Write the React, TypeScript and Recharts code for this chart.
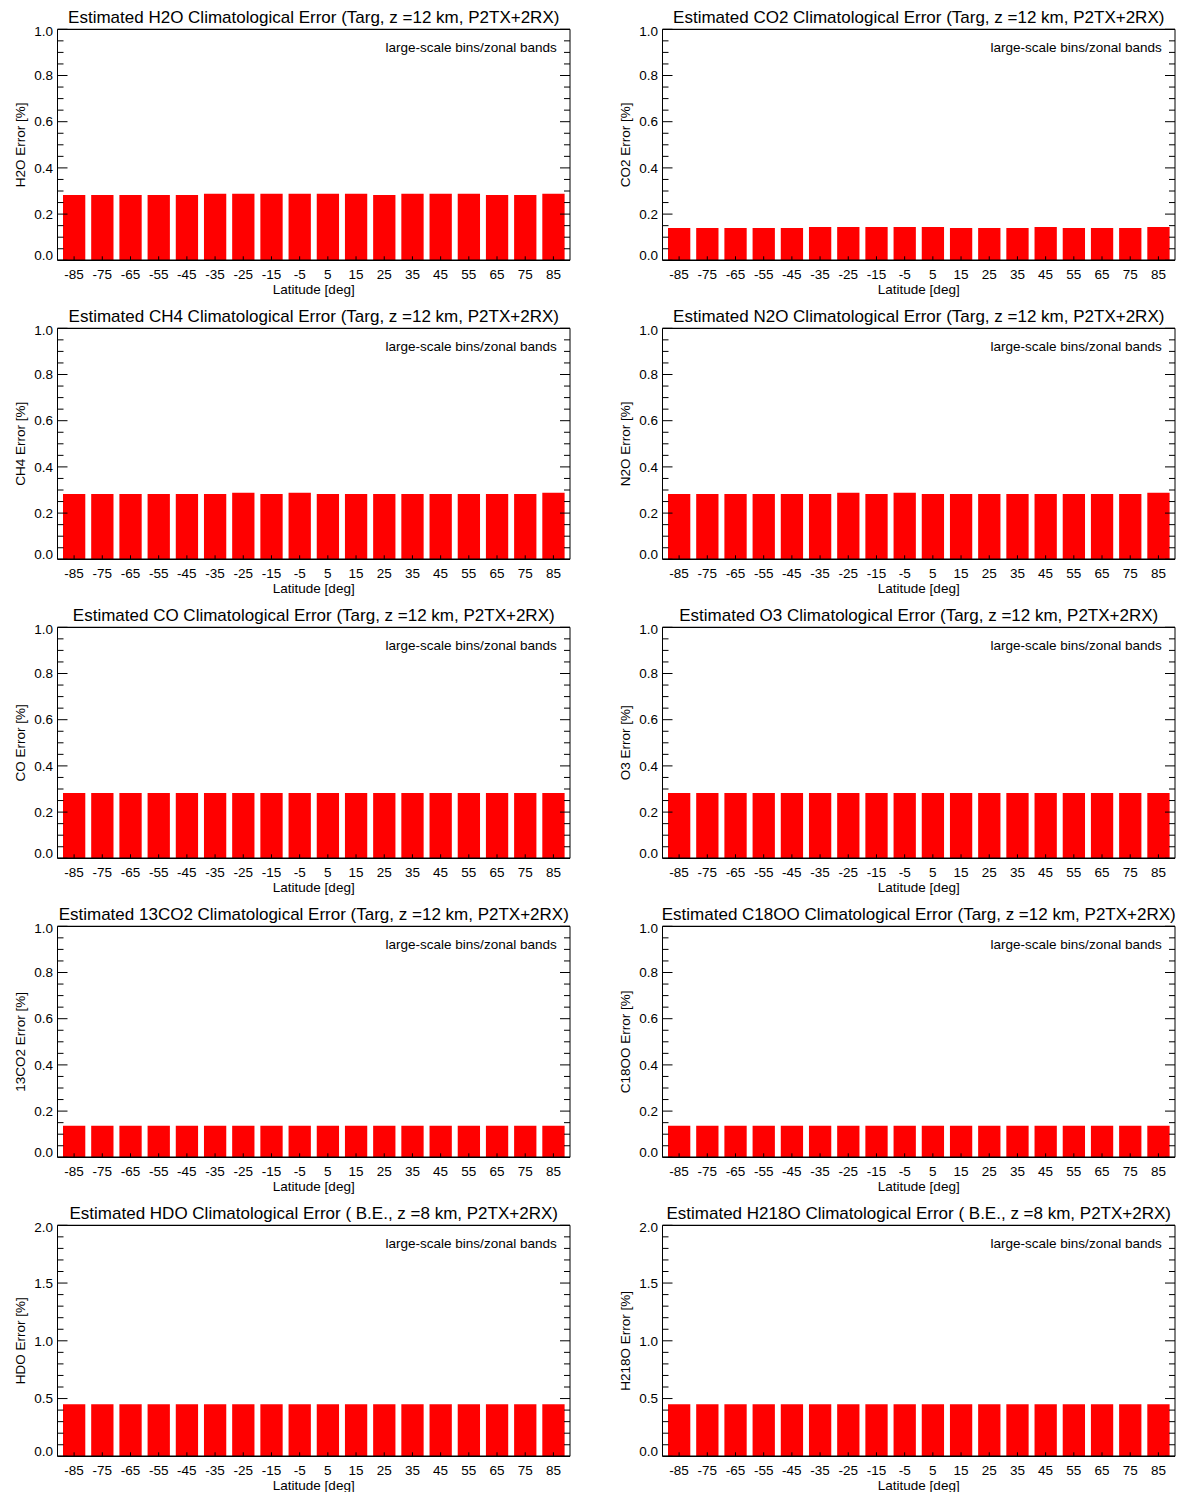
import { BarChart, Bar, XAxis, YAxis, ReferenceLine } from "recharts";

// zonal band centres [deg]
const LATITUDES = [
  "-85", "-75", "-65", "-55", "-45", "-35", "-25", "-15", "-5",
  "5", "15", "25", "35", "45", "55", "65", "75", "85",
];

// estimated climatological error per band [%]
const H2O_ERR = [0.283, 0.283, 0.283, 0.283, 0.283, 0.288, 0.288, 0.288, 0.288, 0.288, 0.288, 0.283, 0.288, 0.288, 0.288, 0.283, 0.283, 0.288];
const CO2_ERR = [0.140, 0.140, 0.140, 0.140, 0.140, 0.144, 0.144, 0.144, 0.144, 0.144, 0.140, 0.140, 0.140, 0.144, 0.140, 0.140, 0.140, 0.144];
const CH4_ERR = [0.283, 0.283, 0.283, 0.283, 0.283, 0.283, 0.288, 0.283, 0.288, 0.283, 0.283, 0.283, 0.283, 0.283, 0.283, 0.283, 0.283, 0.288];
const N2O_ERR = [0.283, 0.283, 0.283, 0.283, 0.283, 0.283, 0.288, 0.283, 0.288, 0.283, 0.283, 0.283, 0.283, 0.283, 0.283, 0.283, 0.283, 0.288];
const CO_ERR = [0.283, 0.283, 0.283, 0.283, 0.283, 0.283, 0.283, 0.283, 0.283, 0.283, 0.283, 0.283, 0.283, 0.283, 0.283, 0.283, 0.283, 0.283];
const O3_ERR = [0.283, 0.283, 0.283, 0.283, 0.283, 0.283, 0.283, 0.283, 0.283, 0.283, 0.283, 0.283, 0.283, 0.283, 0.283, 0.283, 0.283, 0.283];
const CO2_13_ERR = [0.137, 0.137, 0.137, 0.137, 0.137, 0.137, 0.137, 0.137, 0.137, 0.137, 0.137, 0.137, 0.137, 0.137, 0.137, 0.137, 0.137, 0.137];
const C18OO_ERR = [0.137, 0.137, 0.137, 0.137, 0.137, 0.137, 0.137, 0.137, 0.137, 0.137, 0.137, 0.137, 0.137, 0.137, 0.137, 0.137, 0.137, 0.137];
const HDO_ERR = [0.45, 0.45, 0.45, 0.45, 0.45, 0.45, 0.45, 0.45, 0.45, 0.45, 0.45, 0.45, 0.45, 0.45, 0.45, 0.45, 0.45, 0.45];
const H218O_ERR = [0.45, 0.45, 0.45, 0.45, 0.45, 0.45, 0.45, 0.45, 0.45, 0.45, 0.45, 0.45, 0.45, 0.45, 0.45, 0.45, 0.45, 0.45];

// y-axis labelled ticks
const TICKS_1 = [0, 0.2, 0.4, 0.6, 0.8, 1.0];
const TICKS_2 = [0, 0.5, 1.0, 1.5, 2.0];

const TARG = "(Targ, z =12 km, P2TX+2RX)";
const BE = "( B.E., z =8 km, P2TX+2RX)";

type Panel = {
  species: string;
  values: number[];
  setup: string;
  major: number[];
  sub: number;
};

const PANELS: Panel[] = [
  { species: "H2O", values: H2O_ERR, setup: TARG, major: TICKS_1, sub: 4 },
  { species: "CO2", values: CO2_ERR, setup: TARG, major: TICKS_1, sub: 4 },
  { species: "CH4", values: CH4_ERR, setup: TARG, major: TICKS_1, sub: 4 },
  { species: "N2O", values: N2O_ERR, setup: TARG, major: TICKS_1, sub: 4 },
  { species: "CO", values: CO_ERR, setup: TARG, major: TICKS_1, sub: 4 },
  { species: "O3", values: O3_ERR, setup: TARG, major: TICKS_1, sub: 4 },
  { species: "13CO2", values: CO2_13_ERR, setup: TARG, major: TICKS_1, sub: 4 },
  { species: "C18OO", values: C18OO_ERR, setup: TARG, major: TICKS_1, sub: 4 },
  { species: "HDO", values: HDO_ERR, setup: BE, major: TICKS_2, sub: 5 },
  { species: "H218O", values: H218O_ERR, setup: BE, major: TICKS_2, sub: 5 },
];

const FONT = "'Liberation Sans', Arial, Helvetica, sans-serif";
const PANEL_W = 590;
const PANEL_H = 299;
const COL_X = [0, 605];
const PLOT_L = 57.5;
const PLOT_R = 570;
const PLOT_T = 29.3;
const PLOT_B = 260.3;
const PLOT_CX = (PLOT_L + PLOT_R) / 2;
const PLOT_CY = (PLOT_T + PLOT_B) / 2;

// labelled ticks plus unlabelled minor ticks in between
function withMinor(major: number[], sub: number): number[] {
  const out: number[] = [];
  for (let i = 0; i < major.length - 1; i++) {
    const a = major[i];
    const b = major[i + 1];
    for (let k = 0; k < sub; k++) out.push(a + ((b - a) * k) / sub);
  }
  out.push(major[major.length - 1]);
  return out;
}

const isMajor = (v: number, major: number[]) => major.some((m) => Math.abs(m - v) < 1e-9);

function ErrorPanel({ panel }: { panel: Panel }) {
  const data = LATITUDES.map((lat, i) => ({ lat, err: panel.values[i] }));
  const yMax = panel.major[panel.major.length - 1];
  const ticks = withMinor(panel.major, panel.sub);

  const leftTick = (p: any) => {
    const v = p.payload.value as number;
    const big = isMajor(v, panel.major);
    let dy = 4.7;
    if (v === 0) dy = 0;
    else if (Math.abs(v - yMax) < 1e-9) dy = 6.7;
    return (
      <g>
        <line x1={p.x} y1={p.y} x2={p.x + (big ? 10 : 6)} y2={p.y} stroke="#000" strokeWidth={1} />
        {big && (
          <text x={p.x - 4.5} y={p.y + dy} textAnchor="end" fontSize={13.5} fontFamily={FONT} fill="#000">
            {v.toFixed(1)}
          </text>
        )}
      </g>
    );
  };

  const rightTick = (p: any) => {
    const big = isMajor(p.payload.value as number, panel.major);
    return <line x1={p.x} y1={p.y} x2={p.x - (big ? 10 : 6)} y2={p.y} stroke="#000" strokeWidth={1} />;
  };

  const bottomTick = (p: any) => (
    <g>
      <line x1={p.x} y1={p.y} x2={p.x} y2={p.y - 4} stroke="#000" strokeWidth={1} />
      <text x={p.x} y={p.y + 19} textAnchor="middle" fontSize={13.5} fontFamily={FONT} fill="#000">
        {p.payload.value}
      </text>
    </g>
  );

  return (
    <BarChart
      width={PANEL_W}
      height={PANEL_H}
      data={data}
      margin={{ top: PLOT_T, right: 0, bottom: 0, left: 0 }}
    >
      <Bar dataKey="err" fill="#ff0000" barSize={22.3} isAnimationActive={false} />
      <XAxis
        dataKey="lat"
        type="category"
        height={PANEL_H - PLOT_B}
        padding={{ left: 2.5, right: 2.5 }}
        interval={0}
        tickSize={0}
        tickMargin={0}
        tickLine={false}
        axisLine={{ stroke: "#000", strokeWidth: 1.5 }}
        tick={bottomTick}
      />
      <YAxis
        type="number"
        domain={[0, yMax]}
        allowDataOverflow
        ticks={ticks}
        interval={0}
        width={PLOT_L}
        tickSize={0}
        tickMargin={0}
        tickLine={false}
        axisLine={{ stroke: "#000", strokeWidth: 1 }}
        tick={leftTick}
      />
      <YAxis
        yAxisId="right"
        orientation="right"
        type="number"
        domain={[0, yMax]}
        allowDataOverflow
        ticks={ticks}
        interval={0}
        width={PANEL_W - PLOT_R}
        tickSize={0}
        tickMargin={0}
        tickLine={false}
        axisLine={{ stroke: "#000", strokeWidth: 1 }}
        tick={rightTick}
      />
      <ReferenceLine y={yMax} stroke="#000" strokeWidth={1.2} />
      <text x={PLOT_CX} y={23} textAnchor="middle" fontSize={17} fontFamily={FONT} fill="#000">
        {`Estimated ${panel.species} Climatological Error ${panel.setup}`}
      </text>
      <text x={PLOT_R - 13.3} y={PLOT_T + 22.7} textAnchor="end" fontSize={13.5} fontFamily={FONT} fill="#000">
        large-scale bins/zonal bands
      </text>
      <text x={PLOT_CX} y={293.5} textAnchor="middle" fontSize={13.5} fontFamily={FONT} fill="#000">
        Latitude [deg]
      </text>
      <text
        x={25}
        y={PLOT_CY}
        textAnchor="middle"
        fontSize={13.5}
        fontFamily={FONT}
        fill="#000"
        transform={`rotate(-90 25 ${PLOT_CY})`}
      >
        {`${panel.species} Error [%]`}
      </text>
    </BarChart>
  );
}

export default function App() {
  return (
    <div
      style={{
        position: "absolute",
        left: 0,
        top: 0,
        width: 1179,
        height: 1492,
        overflow: "hidden",
        background: "#fff",
      }}
    >
      {PANELS.map((panel, i) => (
        <div
          key={panel.species}
          style={{
            position: "absolute",
            left: COL_X[i % 2],
            top: Math.floor(i / 2) * PANEL_H,
            width: PANEL_W,
            height: PANEL_H,
          }}
        >
          <ErrorPanel panel={panel} />
        </div>
      ))}
    </div>
  );
}
